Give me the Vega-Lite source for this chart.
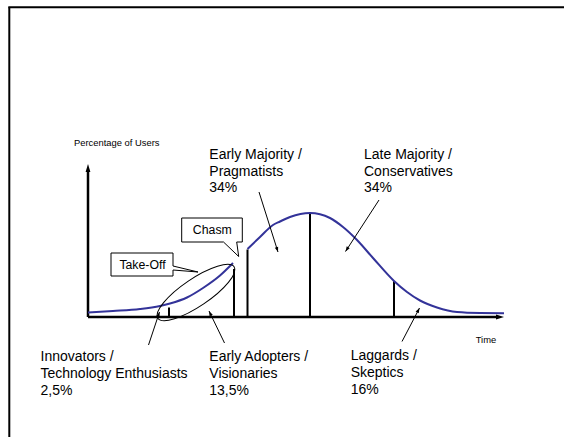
{
  "$schema": "https://vega.github.io/schema/vega-lite/v6.json",
  "width": 564,
  "height": 437,
  "padding": 0,
  "autosize": {"type": "none"},
  "background": "white",
  "config": {"view": {"stroke": null}},
  "datasets": {
    "curve": [
      {"segment": "Take-Off", "time": 0, "users": 4.5},
      {"segment": "Take-Off", "time": 25, "users": 6},
      {"segment": "Take-Off", "time": 52, "users": 8},
      {"segment": "Take-Off", "time": 72, "users": 11},
      {"segment": "Take-Off", "time": 82, "users": 13.5},
      {"segment": "Take-Off", "time": 99, "users": 19.5},
      {"segment": "Take-Off", "time": 115, "users": 29},
      {"segment": "Take-Off", "time": 132, "users": 41.5},
      {"segment": "Take-Off", "time": 145, "users": 54},
      {"segment": "Mainstream", "time": 159.5, "users": 68},
      {"segment": "Mainstream", "time": 172, "users": 80},
      {"segment": "Mainstream", "time": 185, "users": 92},
      {"segment": "Mainstream", "time": 192, "users": 95.5},
      {"segment": "Mainstream", "time": 202, "users": 100},
      {"segment": "Mainstream", "time": 222, "users": 104},
      {"segment": "Mainstream", "time": 242, "users": 99},
      {"segment": "Mainstream", "time": 255, "users": 90},
      {"segment": "Mainstream", "time": 269, "users": 77},
      {"segment": "Mainstream", "time": 285, "users": 59},
      {"segment": "Mainstream", "time": 306, "users": 36},
      {"segment": "Mainstream", "time": 319, "users": 25},
      {"segment": "Mainstream", "time": 332, "users": 16.5},
      {"segment": "Mainstream", "time": 349, "users": 9.5},
      {"segment": "Mainstream", "time": 369, "users": 5},
      {"segment": "Mainstream", "time": 392, "users": 4},
      {"segment": "Mainstream", "time": 416, "users": 3.8}
    ],
    "dividers": [
      {"time": 81, "users": 9.5},
      {"time": 146, "users": 48},
      {"time": 159.5, "users": 67.5},
      {"time": 222, "users": 104},
      {"time": 306, "users": 36}
    ],
    "frame": [
      {"t1": -78.7, "u1": 309.7, "t2": -78.7, "u2": -120},
      {"t1": -79.7, "u1": 309.7, "t2": 476, "u2": 309.7}
    ],
    "axes": [
      {"t1": 0, "u1": 0, "t2": 0, "u2": 147},
      {"t1": 0, "u1": 0, "t2": 410, "u2": 0}
    ],
    "axisHeads": [
      {"t1": 0, "u1": 140, "t2": 0, "u2": 153},
      {"t1": 400, "u1": 0, "t2": 416, "u2": 0}
    ],
    "arrows": [
      {"t1": 171, "u1": 125, "t2": 190, "u2": 65},
      {"t1": 291, "u1": 117, "t2": 257.5, "u2": 65.5},
      {"t1": 60.5, "u1": -28, "t2": 71.5, "u2": 5},
      {"t1": 136.5, "u1": -26, "t2": 121, "u2": 6},
      {"t1": 314, "u1": -24.5, "t2": 331.5, "u2": 9}
    ],
    "ellipse": [{"time": 108, "users": 24.5}],
    "callouts": [
      {"callout": "Chasm", "k": 0, "time": 93.7, "users": 99},
      {"callout": "Chasm", "k": 1, "time": 154.3, "users": 99},
      {"callout": "Chasm", "k": 2, "time": 154.3, "users": 75},
      {"callout": "Chasm", "k": 3, "time": 148.7, "users": 75},
      {"callout": "Chasm", "k": 4, "time": 150.7, "users": 60.5},
      {"callout": "Chasm", "k": 5, "time": 135.5, "users": 75},
      {"callout": "Chasm", "k": 6, "time": 93.7, "users": 75},
      {"callout": "Chasm", "k": 7, "time": 93.7, "users": 99},
      {"callout": "Take-Off", "k": 0, "time": 23, "users": 64},
      {"callout": "Take-Off", "k": 1, "time": 85, "users": 64},
      {"callout": "Take-Off", "k": 2, "time": 85, "users": 51},
      {"callout": "Take-Off", "k": 3, "time": 110, "users": 45},
      {"callout": "Take-Off", "k": 4, "time": 85, "users": 47},
      {"callout": "Take-Off", "k": 5, "time": 85, "users": 41},
      {"callout": "Take-Off", "k": 6, "time": 23, "users": 41},
      {"callout": "Take-Off", "k": 7, "time": 23, "users": 64}
    ],
    "labels": [
      {"group": "label", "text": "Early Majority /", "time": 121.3, "users": 162},
      {"group": "label", "text": "Pragmatists", "time": 121.3, "users": 145.3},
      {"group": "label", "text": "34%", "time": 121.3, "users": 128.7},
      {"group": "label", "text": "Late Majority /", "time": 276, "users": 162},
      {"group": "label", "text": "Conservatives", "time": 276, "users": 145.3},
      {"group": "label", "text": "34%", "time": 276, "users": 128.7},
      {"group": "label", "text": "Innovators /", "time": -47.5, "users": -39.7},
      {"group": "label", "text": "Technology Enthusiasts", "time": -47.5, "users": -57},
      {"group": "label", "text": "2,5%", "time": -47.5, "users": -74},
      {"group": "label", "text": "Early Adopters /", "time": 121.3, "users": -39.7},
      {"group": "label", "text": "Visionaries", "time": 121.3, "users": -57},
      {"group": "label", "text": "13,5%", "time": 121.3, "users": -74},
      {"group": "label", "text": "Laggards /", "time": 262.7, "users": -38.5},
      {"group": "label", "text": "Skeptics", "time": 262.7, "users": -55.5},
      {"group": "label", "text": "16%", "time": 262.7, "users": -72.5},
      {"group": "small", "text": "Percentage of Users", "time": -14, "users": 174},
      {"group": "small", "text": "Time", "time": 387.7, "users": -23},
      {"group": "callout", "text": "Chasm", "time": 124.3, "users": 86.7},
      {"group": "callout", "text": "Take-Off", "time": 54.5, "users": 52}
    ]
  },
  "layer": [
    {
      "data": {"name": "frame"},
      "mark": {"type": "rule", "color": "#000", "strokeWidth": 2},
      "encoding": {
        "x": {"field": "t1", "type": "quantitative", "scale": {"domain": [-88, 476], "nice": false, "zero": false}, "axis": null},
        "y": {"field": "u1", "type": "quantitative", "scale": {"domain": [-120, 317], "nice": false, "zero": false}, "axis": null},
        "x2": {"field": "t2"},
        "y2": {"field": "u2"}
      }
    },
    {
      "data": {"name": "axes"},
      "mark": {"type": "rule", "color": "#000", "strokeWidth": 2.5},
      "encoding": {
        "x": {"field": "t1", "type": "quantitative", "scale": {"domain": [-88, 476], "nice": false, "zero": false}, "axis": null},
        "y": {"field": "u1", "type": "quantitative", "scale": {"domain": [-120, 317], "nice": false, "zero": false}, "axis": null},
        "x2": {"field": "t2"},
        "y2": {"field": "u2"}
      }
    },
    {
      "data": {"name": "axisHeads"},
      "mark": {"type": "point", "shape": "M 0 0 L 0.6 2 L -0.6 2 Z", "size": 64, "filled": true, "color": "#000", "opacity": 1, "angle": {"expr": "atan2(datum.t2 - datum.t1, datum.u2 - datum.u1) * 180 / PI"}},
      "encoding": {
        "x": {"field": "t2", "type": "quantitative", "scale": {"domain": [-88, 476], "nice": false, "zero": false}, "axis": null},
        "y": {"field": "u2", "type": "quantitative", "scale": {"domain": [-120, 317], "nice": false, "zero": false}, "axis": null}
      }
    },
    {
      "data": {"name": "dividers"},
      "mark": {"type": "rule", "color": "#000", "strokeWidth": 2},
      "encoding": {
        "x": {"field": "time", "type": "quantitative", "scale": {"domain": [-88, 476], "nice": false, "zero": false}, "axis": null},
        "y": {"field": "users", "type": "quantitative", "scale": {"domain": [-120, 317], "nice": false, "zero": false}, "axis": null},
        "y2": {"datum": 0}
      }
    },
    {
      "data": {"name": "curve"},
      "mark": {"type": "line", "color": "#333399", "strokeWidth": 2, "interpolate": "monotone"},
      "encoding": {
        "x": {"field": "time", "type": "quantitative", "scale": {"domain": [-88, 476], "nice": false, "zero": false}, "axis": null},
        "y": {"field": "users", "type": "quantitative", "scale": {"domain": [-120, 317], "nice": false, "zero": false}, "axis": null},
        "detail": {"field": "segment", "type": "nominal"}
      }
    },
    {
      "data": {"name": "ellipse"},
      "mark": {"type": "point", "shape": "M -1 0 A 1 0.3 0 1 1 1 0 A 1 0.3 0 1 1 -1 0 Z", "size": 8464, "filled": false, "stroke": "#000", "strokeWidth": 1, "opacity": 1, "angle": 326},
      "encoding": {
        "x": {"field": "time", "type": "quantitative", "scale": {"domain": [-88, 476], "nice": false, "zero": false}, "axis": null},
        "y": {"field": "users", "type": "quantitative", "scale": {"domain": [-120, 317], "nice": false, "zero": false}, "axis": null}
      }
    },
    {
      "data": {"name": "callouts"},
      "mark": {"type": "line", "color": "#000", "strokeWidth": 1, "interpolate": "linear", "strokeJoin": "miter"},
      "encoding": {
        "x": {"field": "time", "type": "quantitative", "scale": {"domain": [-88, 476], "nice": false, "zero": false}, "axis": null},
        "y": {"field": "users", "type": "quantitative", "scale": {"domain": [-120, 317], "nice": false, "zero": false}, "axis": null},
        "detail": {"field": "callout", "type": "nominal"},
        "order": {"field": "k", "type": "quantitative"}
      }
    },
    {
      "data": {"name": "arrows"},
      "mark": {"type": "rule", "color": "#000", "strokeWidth": 1},
      "encoding": {
        "x": {"field": "t1", "type": "quantitative", "scale": {"domain": [-88, 476], "nice": false, "zero": false}, "axis": null},
        "y": {"field": "u1", "type": "quantitative", "scale": {"domain": [-120, 317], "nice": false, "zero": false}, "axis": null},
        "x2": {"field": "t2"},
        "y2": {"field": "u2"}
      }
    },
    {
      "data": {"name": "arrows"},
      "mark": {"type": "point", "shape": "M 0 0 L 0.7 2 L -0.7 2 Z", "size": 25, "filled": true, "color": "#000", "opacity": 1, "angle": {"expr": "atan2(datum.t2 - datum.t1, datum.u2 - datum.u1) * 180 / PI"}},
      "encoding": {
        "x": {"field": "t2", "type": "quantitative", "scale": {"domain": [-88, 476], "nice": false, "zero": false}, "axis": null},
        "y": {"field": "u2", "type": "quantitative", "scale": {"domain": [-120, 317], "nice": false, "zero": false}, "axis": null}
      }
    },
    {
      "data": {"name": "labels"},
      "transform": [{"filter": "datum.group === 'label'"}],
      "mark": {"type": "text", "font": "Liberation Sans", "fontSize": 14, "align": "left", "baseline": "middle", "color": "#000"},
      "encoding": {
        "x": {"field": "time", "type": "quantitative", "scale": {"domain": [-88, 476], "nice": false, "zero": false}, "axis": null},
        "y": {"field": "users", "type": "quantitative", "scale": {"domain": [-120, 317], "nice": false, "zero": false}, "axis": null},
        "text": {"field": "text"}
      }
    },
    {
      "data": {"name": "labels"},
      "transform": [{"filter": "datum.group === 'small'"}],
      "mark": {"type": "text", "font": "Liberation Sans", "fontSize": 9.4, "align": "left", "baseline": "middle", "color": "#000"},
      "encoding": {
        "x": {"field": "time", "type": "quantitative", "scale": {"domain": [-88, 476], "nice": false, "zero": false}, "axis": null},
        "y": {"field": "users", "type": "quantitative", "scale": {"domain": [-120, 317], "nice": false, "zero": false}, "axis": null},
        "text": {"field": "text"}
      }
    },
    {
      "data": {"name": "labels"},
      "transform": [{"filter": "datum.group === 'callout'"}],
      "mark": {"type": "text", "font": "Liberation Sans", "fontSize": 12.3, "align": "center", "baseline": "middle", "color": "#000"},
      "encoding": {
        "x": {"field": "time", "type": "quantitative", "scale": {"domain": [-88, 476], "nice": false, "zero": false}, "axis": null},
        "y": {"field": "users", "type": "quantitative", "scale": {"domain": [-120, 317], "nice": false, "zero": false}, "axis": null},
        "text": {"field": "text"}
      }
    }
  ]
}
